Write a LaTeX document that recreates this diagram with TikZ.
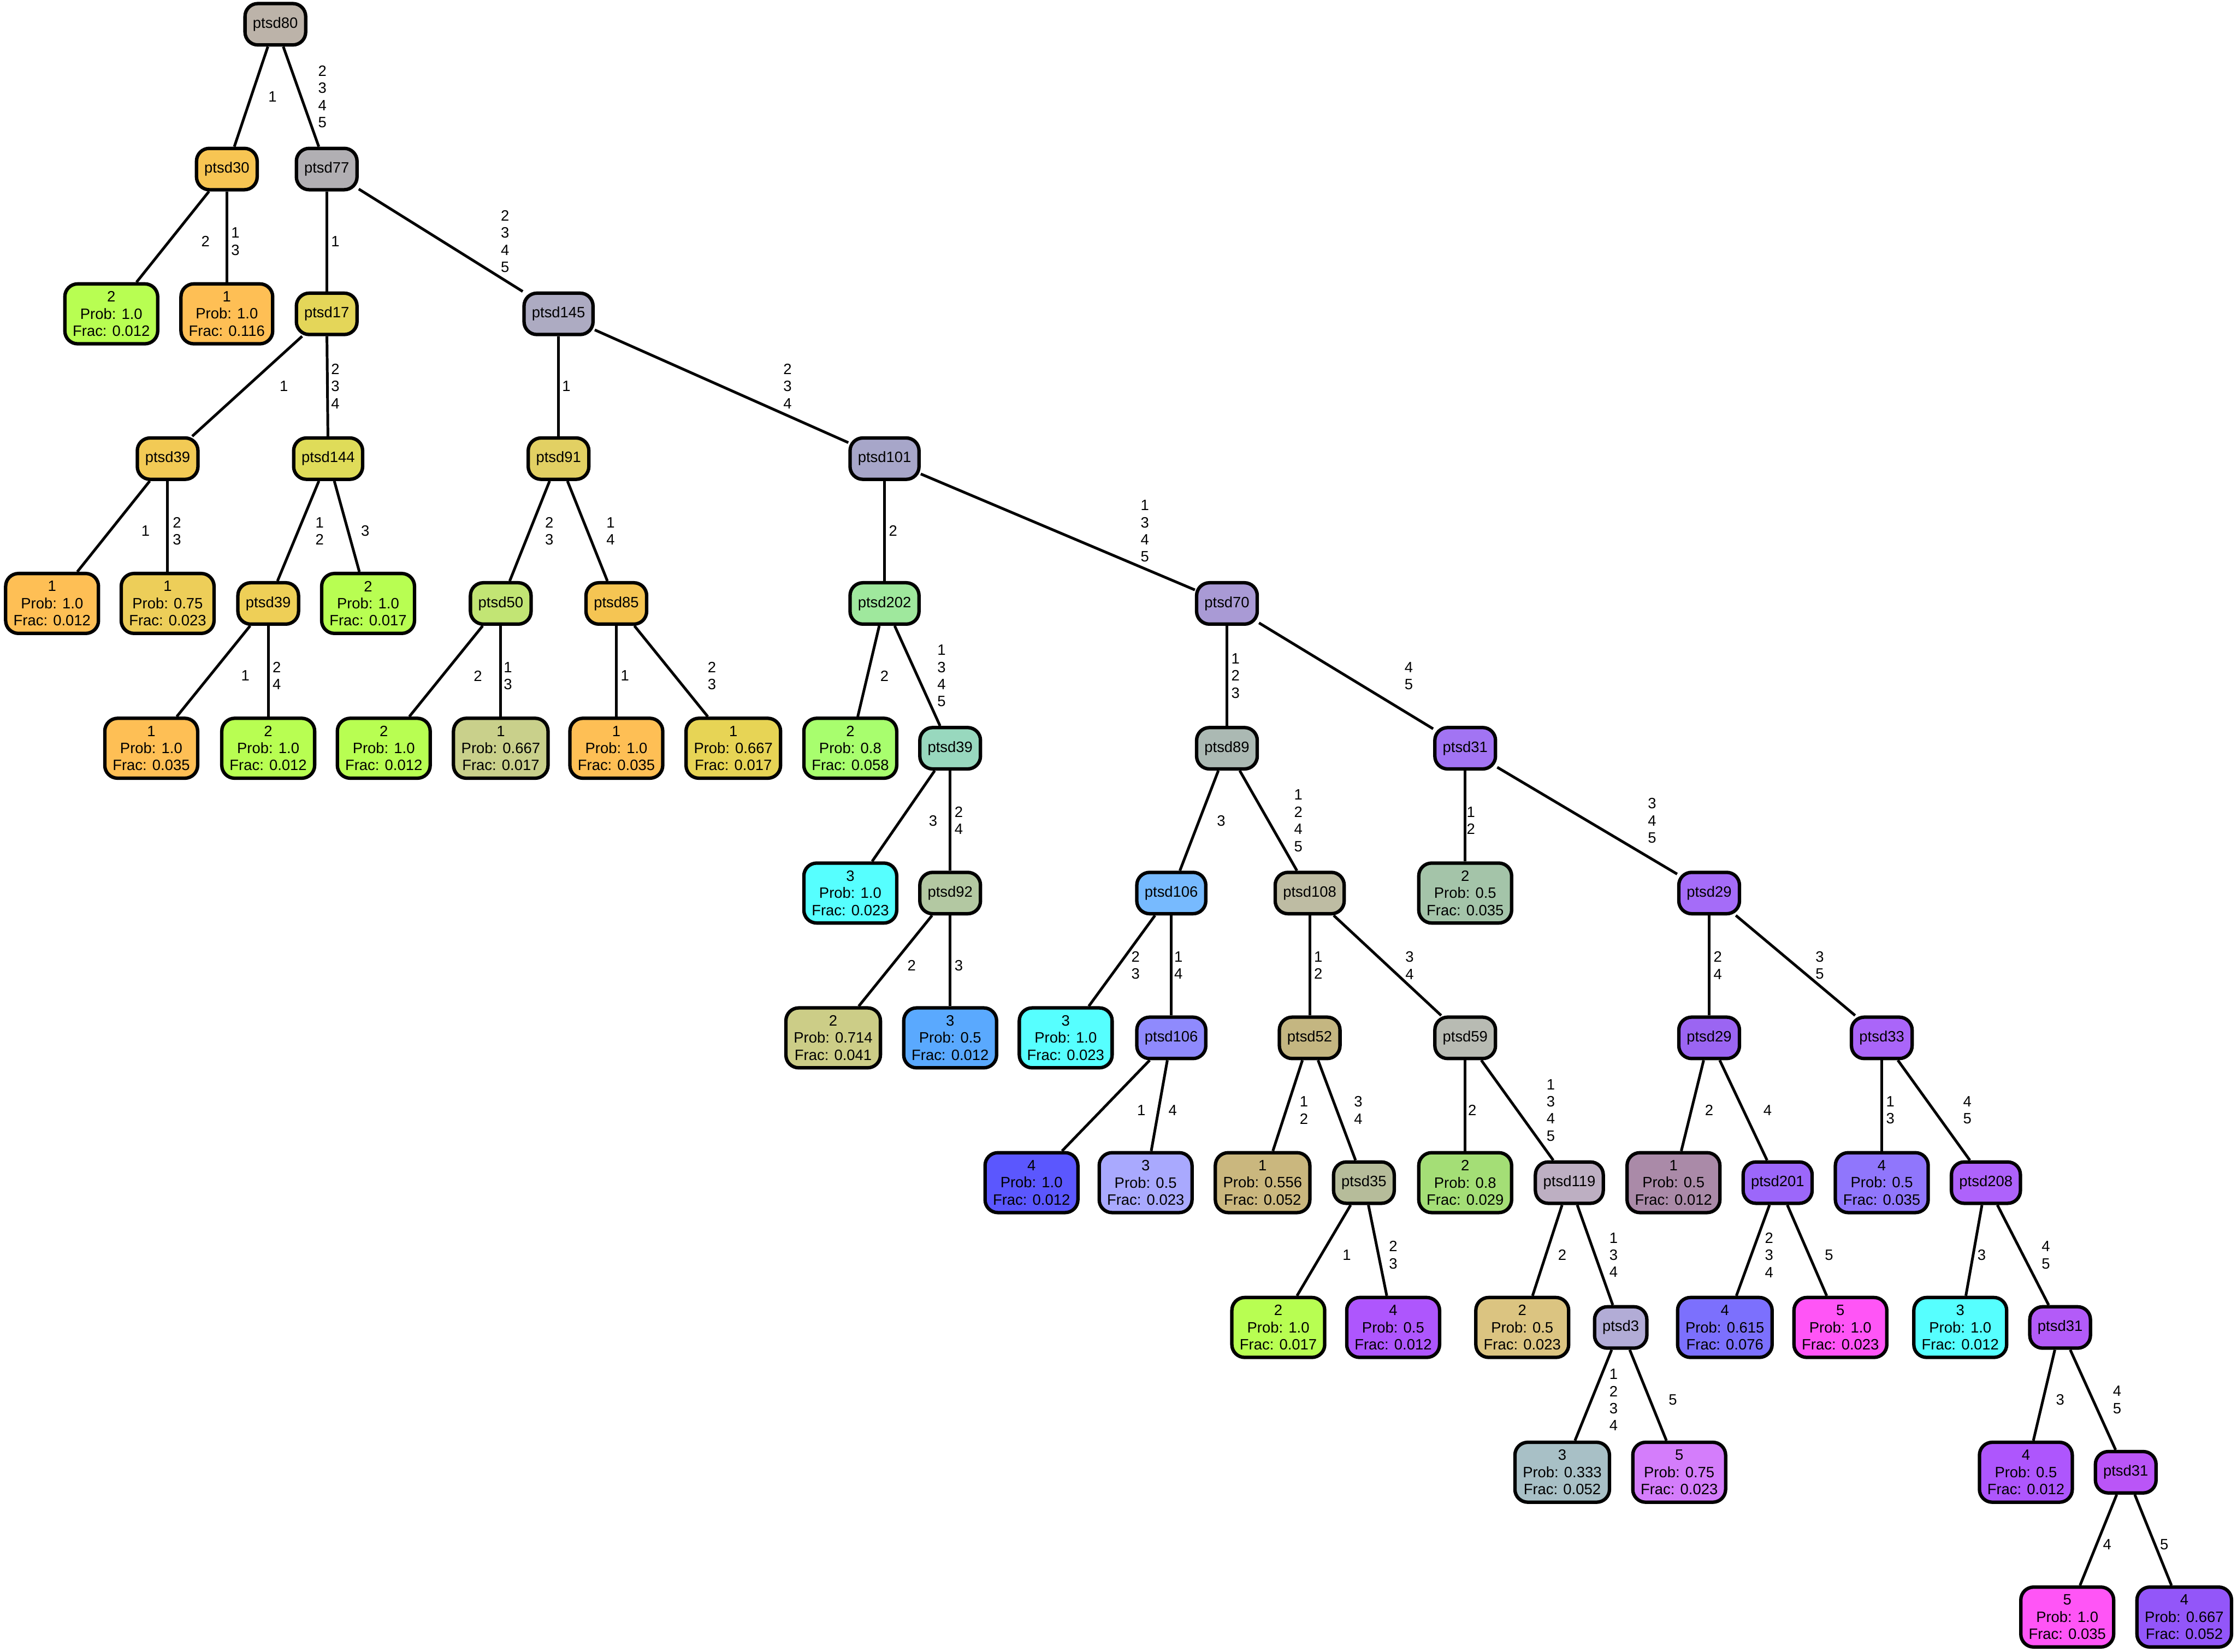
\documentclass[tikz,border=0pt]{standalone}
\usepackage{fontspec}
\setmainfont{Liberation Sans}
\newcommand{\nfont}{\fontsize{10.5}{12}\selectfont}
\definecolor{c80}{HTML}{BCB3A9}
\definecolor{c30}{HTML}{F7C553}
\definecolor{c77}{HTML}{B1AFB3}
\definecolor{cgreen}{HTML}{B8FE52}
\definecolor{corange}{HTML}{FEBF55}
\definecolor{c17}{HTML}{E4D659}
\definecolor{c145}{HTML}{ADABC2}
\definecolor{c39a}{HTML}{F2CA55}
\definecolor{c144}{HTML}{DFDC59}
\definecolor{c91}{HTML}{E2D063}
\definecolor{c101}{HTML}{A7A6C9}
\definecolor{cl4}{HTML}{EDCE59}
\definecolor{c39b}{HTML}{EECF57}
\definecolor{c50}{HTML}{C2E574}
\definecolor{c85}{HTML}{F5C553}
\definecolor{c202}{HTML}{9FE89D}
\definecolor{c70}{HTML}{A99AD5}
\definecolor{cl9}{HTML}{C9D08B}
\definecolor{cl11}{HTML}{E7D455}
\definecolor{cl12}{HTML}{A8FE6E}
\definecolor{c39c}{HTML}{98D8BE}
\definecolor{c89}{HTML}{ABB9B3}
\definecolor{c31a}{HTML}{A274F3}
\definecolor{ccyan}{HTML}{56FFFF}
\definecolor{c92}{HTML}{B3C8A2}
\definecolor{c106a}{HTML}{77BAFE}
\definecolor{c108}{HTML}{BEBCA3}
\definecolor{cl14}{HTML}{A4C4A9}
\definecolor{c29a}{HTML}{A56CF8}
\definecolor{cl15}{HTML}{CCCD87}
\definecolor{cl16}{HTML}{5AA9FE}
\definecolor{c106b}{HTML}{8F8AFD}
\definecolor{c52}{HTML}{C4B681}
\definecolor{c59}{HTML}{B8BBB3}
\definecolor{c29b}{HTML}{9B65F2}
\definecolor{c33}{HTML}{AA65F9}
\definecolor{cl18}{HTML}{5B57FE}
\definecolor{cl19}{HTML}{A9A9FE}
\definecolor{cl20}{HTML}{CAB77E}
\definecolor{c35}{HTML}{B6BC9A}
\definecolor{cl21}{HTML}{A4DE76}
\definecolor{c119}{HTML}{BDAFC2}
\definecolor{cl22}{HTML}{AA8AA8}
\definecolor{c201}{HTML}{9C67FA}
\definecolor{cl23}{HTML}{9076FC}
\definecolor{c208}{HTML}{AE62FB}
\definecolor{cl25}{HTML}{AE56FD}
\definecolor{cl26}{HTML}{DBC481}
\definecolor{c3}{HTML}{B2ACD6}
\definecolor{cl27}{HTML}{7C70FD}
\definecolor{cmag}{HTML}{FF55F6}
\definecolor{c31b}{HTML}{B35BF8}
\definecolor{cl30}{HTML}{A8C0C6}
\definecolor{cl31}{HTML}{D47DFB}
\definecolor{c31c}{HTML}{BA55F7}
\definecolor{cl34}{HTML}{9356F9}
\tikzset{
  inode/.style={draw=black, line width=2.4pt, rounded corners=9pt, minimum height=29pt, inner xsep=5.5pt, inner ysep=2pt, font=\nfont},
  leaf/.style={inode, align=center, minimum height=42pt},
  edge/.style={draw=black, line width=1.9pt},
  lab/.style={font=\nfont, align=center, inner sep=0pt}
}
\begin{document}
\begin{tikzpicture}[x=1pt,y=-1pt]
\useasboundingbox[fill=white] (0,0) rectangle (1568,1158);
% level 0-1
\node[inode, fill=c80] (n80) at (193,17) {ptsd80};
\node[inode, fill=c30] (n30) at (159,118.5) {ptsd30};
\node[inode, fill=c77] (n77) at (229,118.5) {ptsd77};
% level 2
\node[leaf, fill=cgreen] (l1) at (78,220) {2\\Prob: 1.0\\Frac: 0.012};
\node[leaf, fill=corange] (l2) at (159,220) {1\\Prob: 1.0\\Frac: 0.116};
\node[inode, fill=c17] (n17) at (229,220) {ptsd17};
\node[inode, fill=c145] (n145) at (391.5,220) {ptsd145};
% level 3
\node[inode, fill=c39a] (n39a) at (117.5,321.5) {ptsd39};
\node[inode, fill=c144] (n144) at (230,321.5) {ptsd144};
\node[inode, fill=c91] (n91) at (391.5,321.5) {ptsd91};
\node[inode, fill=c101] (n101) at (620,321.5) {ptsd101};
% level 4
\node[leaf, fill=corange] (l3) at (36.5,423) {1\\Prob: 1.0\\Frac: 0.012};
\node[leaf, fill=cl4] (l4) at (117.5,423) {1\\Prob: 0.75\\Frac: 0.023};
\node[inode, fill=c39b] (n39b) at (188,423) {ptsd39};
\node[leaf, fill=cgreen] (l5) at (258,423) {2\\Prob: 1.0\\Frac: 0.017};
\node[inode, fill=c50] (n50) at (351,423) {ptsd50};
\node[inode, fill=c85] (n85) at (432,423) {ptsd85};
\node[inode, fill=c202] (n202) at (620,423) {ptsd202};
\node[inode, fill=c70] (n70) at (860,423) {ptsd70};
% level 5
\node[leaf, fill=corange] (l6) at (106,524.5) {1\\Prob: 1.0\\Frac: 0.035};
\node[leaf, fill=cgreen] (l7) at (188,524.5) {2\\Prob: 1.0\\Frac: 0.012};
\node[leaf, fill=cgreen] (l8) at (269,524.5) {2\\Prob: 1.0\\Frac: 0.012};
\node[leaf, fill=cl9] (l9) at (351,524.5) {1\\Prob: 0.667\\Frac: 0.017};
\node[leaf, fill=corange] (l10) at (432,524.5) {1\\Prob: 1.0\\Frac: 0.035};
\node[leaf, fill=cl11] (l11) at (514,524.5) {1\\Prob: 0.667\\Frac: 0.017};
\node[leaf, fill=cl12] (l12) at (596,524.5) {2\\Prob: 0.8\\Frac: 0.058};
\node[inode, fill=c39c] (n39c) at (666,524.5) {ptsd39};
\node[inode, fill=c89] (n89) at (860,524.5) {ptsd89};
\node[inode, fill=c31a] (n31a) at (1027,524.5) {ptsd31};
% level 6
\node[leaf, fill=ccyan] (l13) at (596,626) {3\\Prob: 1.0\\Frac: 0.023};
\node[inode, fill=c92] (n92) at (666,626) {ptsd92};
\node[inode, fill=c106a] (n106a) at (821,626) {ptsd106};
\node[inode, fill=c108] (n108) at (918,626) {ptsd108};
\node[leaf, fill=cl14] (l14) at (1027,626) {2\\Prob: 0.5\\Frac: 0.035};
\node[inode, fill=c29a] (n29a) at (1198,626) {ptsd29};
% level 7
\node[leaf, fill=cl15] (l15) at (584,727.5) {2\\Prob: 0.714\\Frac: 0.041};
\node[leaf, fill=cl16] (l16) at (666,727.5) {3\\Prob: 0.5\\Frac: 0.012};
\node[leaf, fill=ccyan] (l17) at (747,727.5) {3\\Prob: 1.0\\Frac: 0.023};
\node[inode, fill=c106b] (n106b) at (821,727.5) {ptsd106};
\node[inode, fill=c52] (n52) at (918,727.5) {ptsd52};
\node[inode, fill=c59] (n59) at (1027,727.5) {ptsd59};
\node[inode, fill=c29b] (n29b) at (1198,727.5) {ptsd29};
\node[inode, fill=c33] (n33) at (1319,727.5) {ptsd33};
% level 8
\node[leaf, fill=cl18] (l18) at (723,829) {4\\Prob: 1.0\\Frac: 0.012};
\node[leaf, fill=cl19] (l19) at (803,829) {3\\Prob: 0.5\\Frac: 0.023};
\node[leaf, fill=cl20] (l20) at (885,829) {1\\Prob: 0.556\\Frac: 0.052};
\node[inode, fill=c35] (n35) at (956,829) {ptsd35};
\node[leaf, fill=cl21] (l21) at (1027,829) {2\\Prob: 0.8\\Frac: 0.029};
\node[inode, fill=c119] (n119) at (1100,829) {ptsd119};
\node[leaf, fill=cl22] (l22) at (1173,829) {1\\Prob: 0.5\\Frac: 0.012};
\node[inode, fill=c201] (n201) at (1246,829) {ptsd201};
\node[leaf, fill=cl23] (l23) at (1319,829) {4\\Prob: 0.5\\Frac: 0.035};
\node[inode, fill=c208] (n208) at (1392,829) {ptsd208};
% level 9
\node[leaf, fill=cgreen] (l24) at (896,930.5) {2\\Prob: 1.0\\Frac: 0.017};
\node[leaf, fill=cl25] (l25) at (976.5,930.5) {4\\Prob: 0.5\\Frac: 0.012};
\node[leaf, fill=cl26] (l26) at (1067,930.5) {2\\Prob: 0.5\\Frac: 0.023};
\node[inode, fill=c3] (n3) at (1136,930.5) {ptsd3};
\node[leaf, fill=cl27] (l27) at (1209,930.5) {4\\Prob: 0.615\\Frac: 0.076};
\node[leaf, fill=cmag] (l28) at (1290,930.5) {5\\Prob: 1.0\\Frac: 0.023};
\node[leaf, fill=ccyan] (l29) at (1374,930.5) {3\\Prob: 1.0\\Frac: 0.012};
\node[inode, fill=c31b] (n31b) at (1444,930.5) {ptsd31};
% level 10
\node[leaf, fill=cl30] (l30) at (1095,1032) {3\\Prob: 0.333\\Frac: 0.052};
\node[leaf, fill=cl31] (l31) at (1177,1032) {5\\Prob: 0.75\\Frac: 0.023};
\node[leaf, fill=cl25] (l32) at (1420,1032) {4\\Prob: 0.5\\Frac: 0.012};
\node[inode, fill=c31c] (n31c) at (1490,1032) {ptsd31};
% level 11
\node[leaf, fill=cmag] (l33) at (1449,1133.5) {5\\Prob: 1.0\\Frac: 0.035};
\node[leaf, fill=cl34] (l34) at (1531,1133.5) {4\\Prob: 0.667\\Frac: 0.052};
% edges
\draw[edge] (n80) -- (n30);
\draw[edge] (n80) -- (n77);
\draw[edge] (n30) -- (l1);
\draw[edge] (n30) -- (l2);
\draw[edge] (n77) -- (n17);
\draw[edge] (n77) -- (n145);
\draw[edge] (n17) -- (n39a);
\draw[edge] (n17) -- (n144);
\draw[edge] (n39a) -- (l3);
\draw[edge] (n39a) -- (l4);
\draw[edge] (n144) -- (n39b);
\draw[edge] (n144) -- (l5);
\draw[edge] (n39b) -- (l6);
\draw[edge] (n39b) -- (l7);
\draw[edge] (n145) -- (n91);
\draw[edge] (n145) -- (n101);
\draw[edge] (n91) -- (n50);
\draw[edge] (n91) -- (n85);
\draw[edge] (n50) -- (l8);
\draw[edge] (n50) -- (l9);
\draw[edge] (n85) -- (l10);
\draw[edge] (n85) -- (l11);
\draw[edge] (n101) -- (n202);
\draw[edge] (n101) -- (n70);
\draw[edge] (n202) -- (l12);
\draw[edge] (n202) -- (n39c);
\draw[edge] (n39c) -- (l13);
\draw[edge] (n39c) -- (n92);
\draw[edge] (n92) -- (l15);
\draw[edge] (n92) -- (l16);
\draw[edge] (n70) -- (n89);
\draw[edge] (n70) -- (n31a);
\draw[edge] (n89) -- (n106a);
\draw[edge] (n89) -- (n108);
\draw[edge] (n31a) -- (l14);
\draw[edge] (n31a) -- (n29a);
\draw[edge] (n106a) -- (l17);
\draw[edge] (n106a) -- (n106b);
\draw[edge] (n108) -- (n52);
\draw[edge] (n108) -- (n59);
\draw[edge] (n29a) -- (n29b);
\draw[edge] (n29a) -- (n33);
\draw[edge] (n106b) -- (l18);
\draw[edge] (n106b) -- (l19);
\draw[edge] (n52) -- (l20);
\draw[edge] (n52) -- (n35);
\draw[edge] (n59) -- (l21);
\draw[edge] (n59) -- (n119);
\draw[edge] (n29b) -- (l22);
\draw[edge] (n29b) -- (n201);
\draw[edge] (n33) -- (l23);
\draw[edge] (n33) -- (n208);
\draw[edge] (n35) -- (l24);
\draw[edge] (n35) -- (l25);
\draw[edge] (n119) -- (l26);
\draw[edge] (n119) -- (n3);
\draw[edge] (n201) -- (l27);
\draw[edge] (n201) -- (l28);
\draw[edge] (n208) -- (l29);
\draw[edge] (n208) -- (n31b);
\draw[edge] (n3) -- (l30);
\draw[edge] (n3) -- (l31);
\draw[edge] (n31b) -- (l32);
\draw[edge] (n31b) -- (n31c);
\draw[edge] (n31c) -- (l33);
\draw[edge] (n31c) -- (l34);
% edge labels
\node[lab] (e1) at (191,67.75) {1};
\node[lab] (e2) at (226,67.75) {2\\3\\4\\5};
\node[lab] (e3) at (144,169.25) {2};
\node[lab] (e4) at (165,169.25) {1\\3};
\node[lab] (e5) at (235,169.25) {1};
\node[lab] (e6) at (354,169.25) {2\\3\\4\\5};
\node[lab] (e7) at (199,270.75) {1};
\node[lab] (e8) at (235,270.75) {2\\3\\4};
\node[lab] (e9) at (102,372.25) {1};
\node[lab] (e10) at (124,372.25) {2\\3};
\node[lab] (e11) at (224,372.25) {1\\2};
\node[lab] (e12) at (256,372.25) {3};
\node[lab] (e13) at (172,473.75) {1};
\node[lab] (e14) at (194,473.75) {2\\4};
\node[lab] (e15) at (397,270.75) {1};
\node[lab] (e16) at (552,270.75) {2\\3\\4};
\node[lab] (e17) at (385,372.25) {2\\3};
\node[lab] (e18) at (428,372.25) {1\\4};
\node[lab] (e19) at (335,473.75) {2};
\node[lab] (e20) at (356,473.75) {1\\3};
\node[lab] (e21) at (438,473.75) {1};
\node[lab] (e22) at (499,473.75) {2\\3};
\node[lab] (e23) at (626,372.25) {2};
\node[lab] (e24) at (802.5,372.25) {1\\3\\4\\5};
\node[lab] (e25) at (620,473.75) {2};
\node[lab] (e26) at (660,473.75) {1\\3\\4\\5};
\node[lab] (e27) at (654,575.25) {3};
\node[lab] (e28) at (672,575.25) {2\\4};
\node[lab] (e29) at (639,676.75) {2};
\node[lab] (e30) at (672,676.75) {3};
\node[lab] (e31) at (866,473.75) {1\\2\\3};
\node[lab] (e32) at (987.5,473.75) {4\\5};
\node[lab] (e33) at (856,575.25) {3};
\node[lab] (e34) at (910,575.25) {1\\2\\4\\5};
\node[lab] (e35) at (1031,575.25) {1\\2};
\node[lab] (e36) at (1158,575.25) {3\\4\\5};
\node[lab] (e37) at (796,676.75) {2\\3};
\node[lab] (e38) at (826,676.75) {1\\4};
\node[lab] (e39) at (924,676.75) {1\\2};
\node[lab] (e40) at (988,676.75) {3\\4};
\node[lab] (e41) at (1204,676.75) {2\\4};
\node[lab] (e42) at (1275.5,676.75) {3\\5};
\node[lab] (e43) at (800,778.25) {1};
\node[lab] (e44) at (822,778.25) {4};
\node[lab] (e45) at (914,778.25) {1\\2};
\node[lab] (e46) at (952,778.25) {3\\4};
\node[lab] (e47) at (1032,778.25) {2};
\node[lab] (e48) at (1087,778.25) {1\\3\\4\\5};
\node[lab] (e49) at (1198,778.25) {2};
\node[lab] (e50) at (1239,778.25) {4};
\node[lab] (e51) at (1325,778.25) {1\\3};
\node[lab] (e52) at (1379,778.25) {4\\5};
\node[lab] (e53) at (944,879.75) {1};
\node[lab] (e54) at (976.5,879.75) {2\\3};
\node[lab] (e55) at (1095,879.75) {2};
\node[lab] (e56) at (1131,879.75) {1\\3\\4};
\node[lab] (e57) at (1240,879.75) {2\\3\\4};
\node[lab] (e58) at (1282,879.75) {5};
\node[lab] (e59) at (1389,879.75) {3};
\node[lab] (e60) at (1434,879.75) {4\\5};
\node[lab] (e61) at (1131,981.25) {1\\2\\3\\4};
\node[lab] (e62) at (1172.5,981.25) {5};
\node[lab] (e63) at (1444,981.25) {3};
\node[lab] (e64) at (1484,981.25) {4\\5};
\node[lab] (e65) at (1477,1082.75) {4};
\node[lab] (e66) at (1517,1082.75) {5};
\end{tikzpicture}
\end{document}
